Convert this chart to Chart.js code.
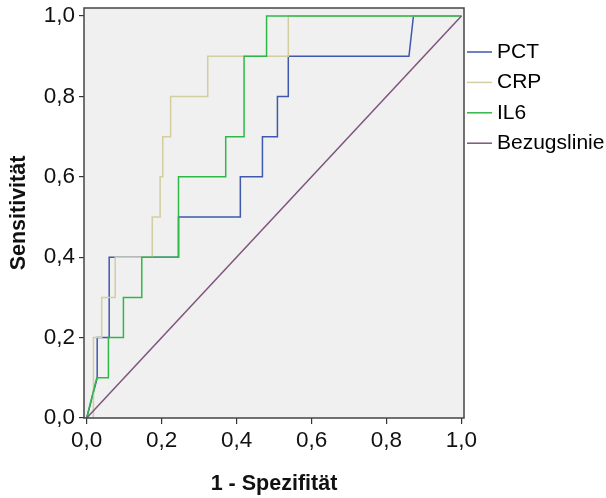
<!DOCTYPE html>
<html>
<head>
<meta charset="utf-8">
<script src="https://cdn.jsdelivr.net/npm/chart.js@4/dist/chart.umd.min.js"></script>
<style>
  html, body { margin: 0; padding: 0; background: #ffffff; }
  #wrap { width: 606px; height: 498px; }
</style>
</head>
<body>
<div id="wrap"><canvas id="roc" width="606" height="498"></canvas></div>
<script>
// ROC curves: 1 - Spezifität (x) against Sensitivität (y)
const seriesNames = ['PCT', 'CRP', 'IL6', 'Bezugslinie'];

const pctFpr = [0, 0.028, 0.028, 0.060, 0.060, 0.245, 0.245, 0.410, 0.410, 0.469, 0.469, 0.509, 0.509, 0.538, 0.538, 0.860, 0.872, 1.0];
const pctTpr = [0, 0.1,   0.2,   0.2,   0.4,   0.4,   0.5,   0.5,   0.6,   0.6,   0.7,   0.7,   0.8,   0.8,   0.9,   0.9,   1.0,   1.0];

const crpFpr = [0, 0.018, 0.018, 0.040, 0.040, 0.076, 0.076, 0.175, 0.175, 0.196, 0.196, 0.203, 0.203, 0.224, 0.224, 0.323, 0.323, 0.538, 0.538, 1.0];
const crpTpr = [0, 0,     0.2,   0.2,   0.3,   0.3,   0.4,   0.4,   0.5,   0.5,   0.6,   0.6,   0.7,   0.7,   0.8,   0.8,   0.9,   0.9,   1.0,   1.0];

const il6Fpr = [0, 0.027, 0.058, 0.058, 0.098, 0.098, 0.147, 0.147, 0.245, 0.245, 0.371, 0.371, 0.420, 0.420, 0.480, 0.480, 1.0];
const il6Tpr = [0, 0.1,   0.1,   0.2,   0.2,   0.3,   0.3,   0.4,   0.4,   0.6,   0.6,   0.7,   0.7,   0.9,   0.9,   1.0,   1.0];

const refFpr = [0, 1];
const refTpr = [0, 1];

const tickValues = [0, 0.2, 0.4, 0.6, 0.8, 1.0];

const colors = ['#3e58ac', '#d3cd9f', '#2eb848', '#80547c'];

const toPoints = (xs, ys) => xs.map((x, i) => ({ x: x, y: ys[i] }));
const fmt = v => v.toFixed(1).replace('.', ',');

const FONT = 'Liberation Sans, Arial, Helvetica, sans-serif';

// plot background and frame around the chart area
const framePlugin = {
  id: 'frame',
  beforeDatasetsDraw(chart) {
    const { ctx, chartArea: a } = chart;
    ctx.save();
    ctx.fillStyle = '#f0f0f0';
    ctx.fillRect(a.left, a.top, a.right - a.left, a.bottom - a.top);
    ctx.restore();
  },
  afterDatasetsDraw(chart) {
    const { ctx, chartArea: a } = chart;
    ctx.save();
    ctx.strokeStyle = '#444444';
    ctx.lineWidth = 1.5;
    ctx.strokeRect(a.left, a.top, a.right - a.left, a.bottom - a.top);
    ctx.restore();
  }
};

// legend on the right: short line swatch followed by the series name
const sideLegend = {
  id: 'sideLegend',
  afterDraw(chart) {
    const { ctx } = chart;
    const a = chart.chartArea;
    ctx.save();
    ctx.font = '21px ' + FONT;
    ctx.textBaseline = 'middle';
    ctx.textAlign = 'left';
    chart.data.datasets.forEach((ds, i) => {
      const y = a.top + 44 + i * 30.4;
      ctx.strokeStyle = ds.borderColor;
      ctx.lineWidth = 1.5;
      ctx.beginPath();
      ctx.moveTo(a.right + 3, y);
      ctx.lineTo(a.right + 28, y);
      ctx.stroke();
      ctx.fillStyle = '#000000';
      ctx.fillText(ds.label, a.right + 33, y);
    });
    ctx.restore();
  }
};

const lineDs = (label, pts, color, order) => ({
  label: label,
  data: pts,
  borderColor: color,
  backgroundColor: color,
  borderWidth: 1.5,
  pointRadius: 0,
  pointHoverRadius: 0,
  tension: 0,
  fill: false,
  order: order
});

new Chart(document.getElementById('roc'), {
  type: 'line',
  data: {
    datasets: [
      lineDs(seriesNames[0], toPoints(pctFpr, pctTpr), colors[0], 3),
      lineDs(seriesNames[1], toPoints(crpFpr, crpTpr), colors[1], 2),
      lineDs(seriesNames[2], toPoints(il6Fpr, il6Tpr), colors[2], 1),
      lineDs(seriesNames[3], toPoints(refFpr, refTpr), colors[3], 0)
    ]
  },
  options: {
    responsive: false,
    animation: false,
    devicePixelRatio: 1,
    layout: { padding: { top: 8, right: 142, bottom: 0, left: 0 } },
    plugins: {
      legend: { display: false },
      tooltip: { enabled: false }
    },
    scales: {
      x: {
        type: 'linear',
        min: -0.0072,
        max: 1.0069,
        afterBuildTicks: s => { s.ticks = tickValues.map(v => ({ value: v })); },
        afterFit: s => { s.height = 80; s.paddingLeft = 0; s.paddingRight = 0; },
        grid: { display: true, drawOnChartArea: false, drawTicks: true, tickLength: 6, color: '#333333', lineWidth: 1.2 },
        border: { display: false },
        ticks: { color: '#111111', font: { family: FONT, size: 22.5 }, padding: 3, maxRotation: 0, callback: v => fmt(v) },
        title: { display: true, text: '1 - Spezifität', color: '#111111', font: { family: FONT, size: 21.5, weight: 'bold' }, padding: { top: 0, bottom: 1 } }
      },
      y: {
        type: 'linear',
        min: 0,
        max: 1.02,
        afterBuildTicks: s => { s.ticks = tickValues.map(v => ({ value: v })); },
        afterFit: s => { s.width = 84; s.paddingTop = 0; s.paddingBottom = 0; },
        grid: { display: true, drawOnChartArea: false, drawTicks: true, tickLength: 5, color: '#333333', lineWidth: 1.2 },
        border: { display: false },
        ticks: { color: '#111111', font: { family: FONT, size: 22.5 }, padding: 4, callback: v => fmt(v) },
        title: { display: true, text: 'Sensitivität', color: '#111111', font: { family: FONT, size: 21.5, weight: 'bold' }, padding: { top: 6, bottom: 0 } }
      }
    }
  },
  plugins: [framePlugin, sideLegend]
});
</script>
</body>
</html>
